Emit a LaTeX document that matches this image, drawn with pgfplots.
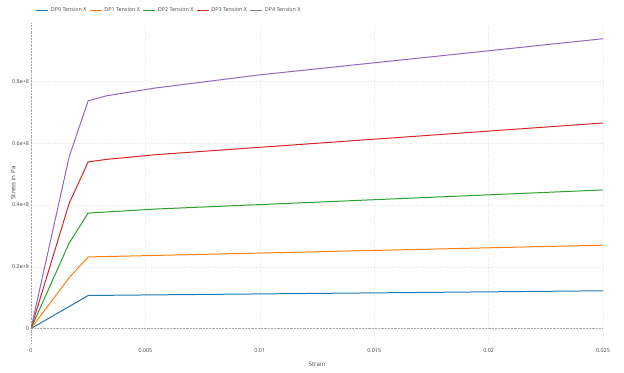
\documentclass[border=0pt]{standalone}
\usepackage{pgfplots}
\pgfplotsset{compat=1.18}
\usepackage{fontspec}
\setmainfont{Open Sans}
\definecolor{c0}{HTML}{1F77B4}
\definecolor{c1}{HTML}{FF7F0E}
\definecolor{c2}{HTML}{2CA02C}
\definecolor{c3}{HTML}{D62728}
\definecolor{c4}{HTML}{9467BD}
\definecolor{txt}{HTML}{444444}
\begin{document}
\begin{tikzpicture}[x=1bp,y=1bp]
\path[use as bounding box] (0,0) rectangle (624,372);
\begin{axis}[
  at={(31bp,29bp)}, anchor=south west,
  scale only axis, width=572bp, height=320bp,
  xmin=0, xmax=0.025, ymin=-0.47e7, ymax=9.9e7,
  axis line style={draw=none},
  major tick length=0pt,
  xtick={0.005,0.01,0.015,0.02,0.025},
  xticklabels={0.005,0.01,0.015,0.02,0.025},
  ytick={2e7,4e7,6e7,8e7},
  yticklabels={0.2e+8,0.4e+8,0.6e+8,0.8e+8},
  extra x ticks={0}, extra x tick labels={0},
  extra y ticks={0}, extra y tick labels={0},
  extra tick style={grid style={draw=gray!70, densely dotted, line width=0.9pt}},
  scaled ticks=false,
  grid=major,
  grid style={draw=gray!18, dotted, line width=0.45pt},
  ticklabel style={font=\fontsize{5.4}{6}\selectfont, text=txt},
  xticklabel style={yshift=-2.5bp},
  yticklabel style={xshift=1.5bp},
  /pgf/number format/assume math mode=true,
  xlabel={Strain}, ylabel={Stress in Pa},
  label style={font=\fontsize{6.2}{7}\selectfont, text=txt},
  xlabel style={at={(axis description cs:0.5,0)}, yshift=-15bp},
  ylabel style={yshift=-10bp},
  legend columns=5,
  legend style={at={(rel axis cs:0.003,1.04)}, anchor=west, draw=none, fill=none,
    font=\fontsize{5.4}{6}\selectfont, text=txt,
    /tikz/every even column/.append style={column sep=1bp},
    /tikz/every odd column/.append style={column sep=0bp}},
  legend image code/.code={\draw[#1, line width=1pt] (0bp,0bp) -- (12bp,0bp);},
  every axis plot/.append style={line width=1pt},
]
\addplot[c0] coordinates {(0,0) (0.00167,0.713e7) (0.0025,1.07e7) (0.025,1.222e7)};
\addlegendentry{DP0 Tension X}
\addplot[c1] coordinates {(0,0) (0.00167,1.65e7) (0.0025,2.32e7) (0.005,2.36e7) (0.025,2.70e7)};
\addlegendentry{DP1 Tension X}
\addplot[c2] coordinates {(0,0) (0.00167,2.77e7) (0.0025,3.74e7) (0.0054,3.87e7) (0.025,4.49e7)};
\addlegendentry{DP2 Tension X}
\addplot[c3] coordinates {(0,0) (0.00167,4.06e7) (0.0025,5.40e7) (0.0033,5.48e7) (0.0054,5.63e7) (0.025,6.66e7)};
\addlegendentry{DP3 Tension X}
\addplot[c4] coordinates {(0,0) (0.00167,5.57e7) (0.0025,7.38e7) (0.0033,7.54e7) (0.0054,7.79e7) (0.01,8.22e7) (0.025,9.39e7)};
\addlegendentry{DP4 Tension X}
\end{axis}
\end{tikzpicture}
\end{document}
